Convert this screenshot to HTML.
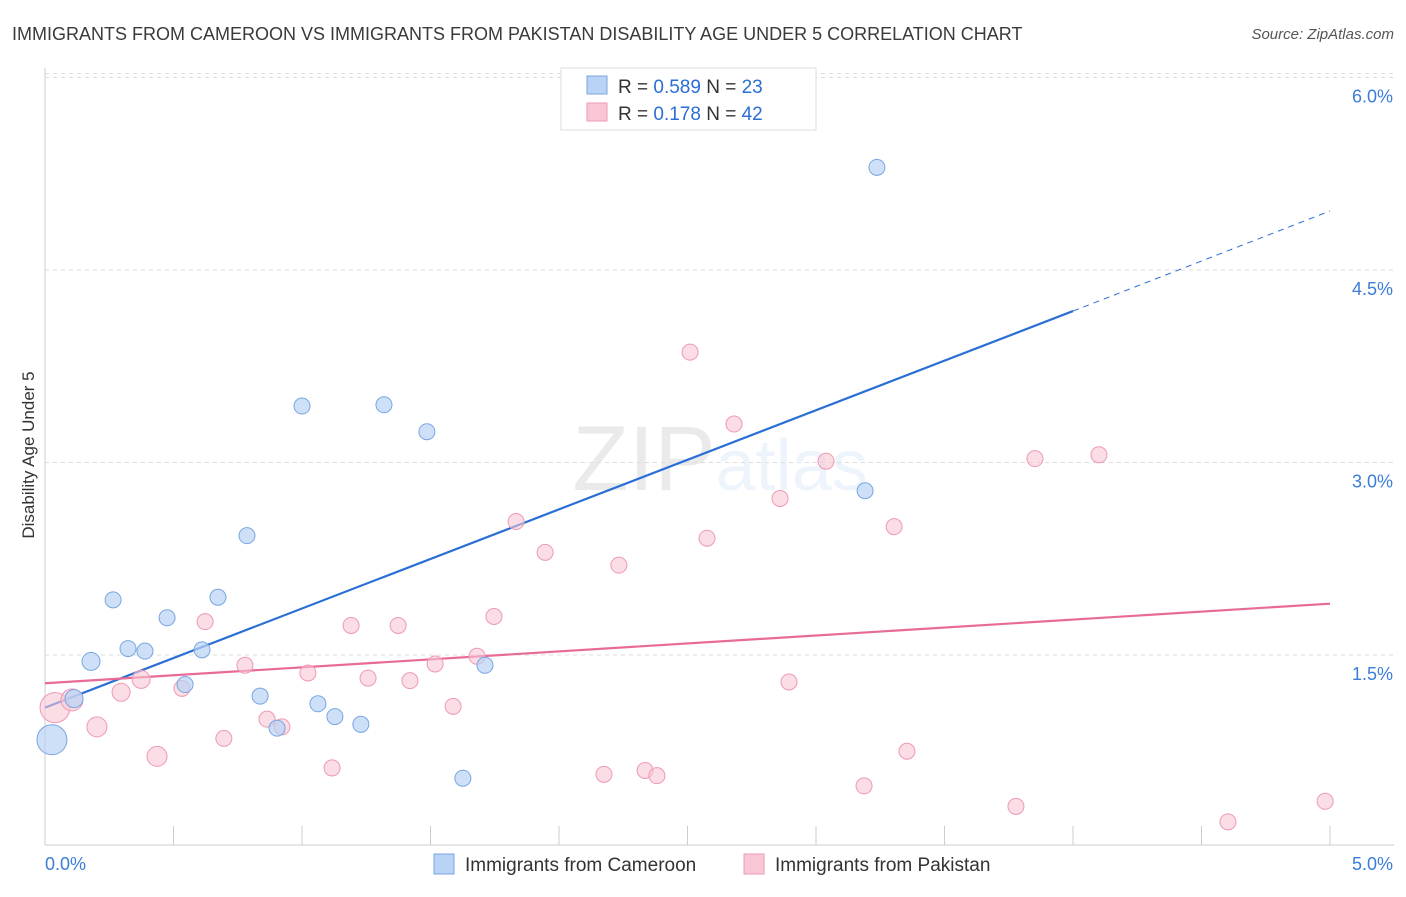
<!DOCTYPE html>
<html><head><meta charset="utf-8"><style>
body{margin:0;background:#fff;font-family:"Liberation Sans",sans-serif;}
svg text{font-family:"Liberation Sans",sans-serif;}
</style></head><body>
<svg id="chart" width="1406" height="892" xmlns="http://www.w3.org/2000/svg">
<text x="12" y="40" font-size="18" fill="#3a3a3a">IMMIGRANTS FROM CAMEROON VS IMMIGRANTS FROM PAKISTAN DISABILITY AGE UNDER 5 CORRELATION CHART</text>
<text x="1394" y="39" font-size="15" fill="#555" text-anchor="end" font-style="italic">Source: ZipAtlas.com</text>
<text x="720" y="490" font-size="92" text-anchor="middle" fill="#000" opacity="0.08" font-family="Liberation Serif">ZIP<tspan fill="#3b7dd8" opacity="1" font-family="Liberation Sans" font-size="72">atlas</tspan></text>
<text transform="translate(34,455) rotate(-90)" font-size="17" fill="#333" text-anchor="middle">Disability Age Under 5</text>
<g id="grid"></g><g id="axes"></g><g id="lines"></g><g id="pts"></g>
<g>
<rect x="561" y="68" width="255" height="62" fill="#fff" stroke="#ddd"/>
<rect x="587" y="76" width="20" height="18" fill="#b8d3f5" stroke="#7aa6e0"/>
<text x="618" y="93" font-size="19" fill="#333">R = <tspan fill="#2a6fd6">0.589</tspan>   N = <tspan fill="#2a6fd6">23</tspan></text>
<rect x="587" y="103" width="20" height="18" fill="#f9c6d5" stroke="#ee99b4"/>
<text x="618" y="120" font-size="19" fill="#333">R =  <tspan fill="#2a6fd6">0.178</tspan>   N = <tspan fill="#2a6fd6">42</tspan></text>
</g>
<g>
<rect x="434" y="854" width="20" height="20" fill="#b8d3f5" stroke="#7aa6e0"/>
<text x="465" y="871" font-size="19" fill="#333">Immigrants from Cameroon</text>
<rect x="744" y="854" width="20" height="20" fill="#f9c6d5" stroke="#ee99b4"/>
<text x="775" y="871" font-size="19" fill="#333">Immigrants from Pakistan</text>
</g>
</svg>
<script>
const yTicks=[1.5,3.0,4.5,6.0];
const yTickLabels=["1.5%","3.0%","4.5%","6.0%"];
const xTickLabels=["0.0%","5.0%"];
const blueX=[0.027,0.113,0.179,0.265,0.323,0.389,0.475,0.545,0.611,0.673,0.786,0.837,0.903,1.000,1.062,1.128,1.229,1.319,1.486,1.626,1.712,3.191,3.237];
const blueY=[0.84,1.16,1.45,1.93,1.55,1.53,1.79,1.27,1.54,1.95,2.43,1.18,0.93,3.44,1.12,1.02,0.96,3.45,3.24,0.54,1.42,2.78,5.30];
const blueR=[15,9,9,8,8,8,8,8,8,8,8,8,8,8,8,8,8,8,8,8,8,8,8];
const pinkX=[0.039,0.105,0.202,0.296,0.374,0.436,0.533,0.623,0.696,0.778,0.864,0.922,1.023,1.117,1.191,1.257,1.374,1.420,1.518,1.588,1.681,1.747,1.833,1.946,2.175,2.233,2.335,2.381,2.510,2.576,2.681,2.860,2.895,3.039,3.187,3.304,3.354,3.778,3.852,4.101,4.603,4.981];
const pinkY=[1.09,1.15,0.94,1.21,1.31,0.71,1.24,1.76,0.85,1.42,1.00,0.94,1.36,0.62,1.73,1.32,1.73,1.30,1.43,1.10,1.49,1.80,2.54,2.30,0.57,2.20,0.60,0.56,3.86,2.41,3.30,2.72,1.29,3.01,0.48,2.50,0.75,0.32,3.03,3.06,0.20,0.36];
const pinkR=[15,11,10,9,9,10,8,8,8,8,8,8,8,8,8,8,8,8,8,8,8,8,8,8,8,8,8,8,8,8,8,8,8,8,8,8,8,8,8,8,8,8];
const blueLine=[0.0,1.09,4.0,4.18,5.0,4.96];
const pinkLine=[0.0,1.28,5.0,1.90];
const NS="http://www.w3.org/2000/svg";
const X=v=>45+v/5*1285, Y=v=>847.5-v*128.33;
function mk(p,t,a){const e=document.createElementNS(NS,t);for(const k in a)e.setAttribute(k,a[k]);document.getElementById(p).appendChild(e);return e;}
yTicks.forEach((t,i)=>{
 let l=mk('grid','line',{x1:45,x2:1394,y1:Y(t),y2:Y(t),stroke:'#ddd','stroke-dasharray':'4,4'});
 
 
 let tx=mk('axes','text',{x:1393,y:Y(t)+25,'font-size':18,fill:'#3b7dd8','text-anchor':'end'});tx.textContent=yTickLabels[i];
 
 
});
let g0=mk('grid','line',{x1:45,x2:1394,y1:Y(6.0)+-4,y2:Y(6.0)-4,stroke:'#ddd','stroke-dasharray':'4,4'});
mk('axes','line',{x1:45,x2:45,y1:68,y2:845,stroke:'#ccc'});
mk('axes','line',{x1:45,x2:1394,y1:845,y2:845,stroke:'#ccc'});
for(let i=1;i<=10;i++){mk('axes','line',{x1:45+i*128.5,x2:45+i*128.5,y1:826,y2:845,stroke:'#ccc'});}
xTickLabels.forEach((s,i)=>{let t=mk('axes','text',{x:i?1393:45,y:870,'font-size':18,fill:'#3b7dd8','text-anchor':i?'end':'start'});t.textContent=s;
 
 });
let bl=mk('lines','line',{x1:X(blueLine[0]),y1:Y(blueLine[1]),x2:X(blueLine[2]),y2:Y(blueLine[3]),stroke:'#2a6fd6','stroke-width':2.2});


mk('lines','line',{x1:X(blueLine[2]),y1:Y(blueLine[3]),x2:X(blueLine[4]),y2:Y(blueLine[5]),stroke:'#2a6fd6','stroke-width':1,'stroke-dasharray':'6,5'});
let pl=mk('lines','line',{x1:X(pinkLine[0]),y1:Y(pinkLine[1]),x2:X(pinkLine[2]),y2:Y(pinkLine[3]),stroke:'#e86a98','stroke-width':2.2});


pinkX.forEach((v,i)=>{let c=mk('pts','circle',{cx:X(v),cy:Y(pinkY[i]),r:pinkR[i],fill:'#f9c6d5','fill-opacity':0.6,stroke:'#ee99b4'});
 
 });
blueX.forEach((v,i)=>{let c=mk('pts','circle',{cx:X(v),cy:Y(blueY[i]),r:blueR[i],fill:'#b8d3f5','fill-opacity':0.7,stroke:'#7aa6e0'});
 
 });
</script>
</body></html>
